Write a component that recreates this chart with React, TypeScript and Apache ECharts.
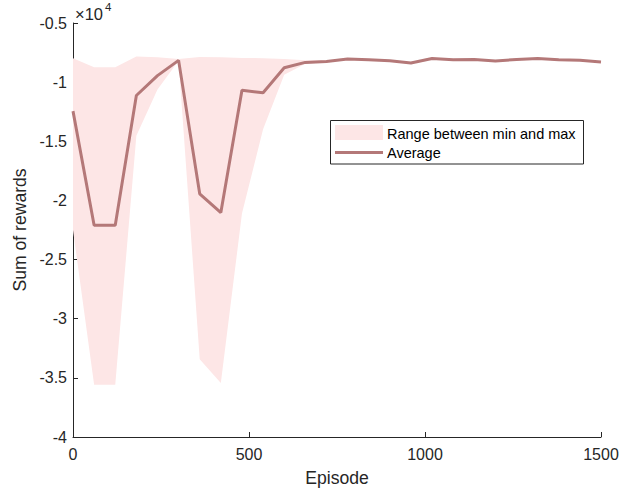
import React, { useEffect, useRef } from "react";
import * as echarts from "echarts";

const episodes = [0, 60, 120, 180, 240, 300, 360, 420, 480, 540, 600, 660, 720, 780, 840, 900, 960, 1020, 1080, 1140, 1200, 1260, 1320, 1380, 1440, 1500];
const averageRewards = [-12450, -22100, -22100, -11130, -9450, -8160, -19440, -21030, -10680, -10900, -8780, -8330, -8250, -8050, -8100, -8200, -8380, -8000, -8100, -8080, -8220, -8080, -8000, -8100, -8150, -8300];
const maxRewards = [-7970, -8750, -8750, -7830, -7900, -8050, -7880, -7900, -7950, -7970, -8050, -8150, -8150, -7980, -8030, -8120, -8300, -7930, -8030, -8010, -8150, -8010, -7930, -8030, -8080, -8230];
const minRewards = [-22500, -35580, -35580, -14540, -10620, -8200, -33430, -35440, -21100, -13980, -9370, -8450, -8320, -8130, -8170, -8270, -8450, -8070, -8170, -8150, -8290, -8150, -8070, -8170, -8220, -8370];
const yTickValues = [-40000, -35000, -30000, -25000, -20000, -15000, -10000, -5000];
const xTickValues = [0, 500, 1000, 1500];

const LINE_COLOR = "#B47878";
const BAND_COLOR = "#FDE6E6";
const AXIS_COLOR = "#262626";
const FONT = "'Liberation Sans', Arial, Helvetica, sans-serif";

export default function App() {
  const ref = useRef<HTMLDivElement>(null);
  useEffect(() => {
    document.body.style.margin = "0";
    if (!ref.current) return;
    const chart = echarts.init(ref.current, null, { renderer: "svg" });
    const avg = episodes.map((x, i) => [x, averageRewards[i]]);
    const bandData = episodes.map((x, i) => [x, minRewards[i], maxRewards[i]]);
    chart.setOption({
      animation: false,
      textStyle: { fontFamily: FONT },
      grid: { left: 73, right: 38, top: 23, bottom: 51, containLabel: false },
      xAxis: {
        type: "value",
        min: xTickValues[0],
        max: xTickValues[xTickValues.length - 1],
        interval: 500,
        name: "Episode",
        nameLocation: "middle",
        nameGap: 32,
        nameTextStyle: { fontSize: 17.6, color: AXIS_COLOR, fontFamily: FONT },
        axisLine: { show: true, onZero: false, lineStyle: { color: AXIS_COLOR, width: 1 } },
        axisTick: { show: true, inside: true, length: 5, lineStyle: { color: AXIS_COLOR } },
        axisLabel: { fontSize: 16, color: AXIS_COLOR, margin: 9, fontFamily: FONT, formatter: (v: number) => String(v) },
        splitLine: { show: false },
      },
      yAxis: {
        type: "value",
        min: yTickValues[0],
        max: yTickValues[yTickValues.length - 1],
        interval: 5000,
        name: "Sum of rewards",
        nameLocation: "middle",
        nameGap: 38,
        nameTextStyle: { fontSize: 17.6, color: AXIS_COLOR, fontFamily: FONT },
        axisLine: { show: true, onZero: false, lineStyle: { color: AXIS_COLOR, width: 1 } },
        axisTick: { show: true, inside: true, length: 5, lineStyle: { color: AXIS_COLOR } },
        axisLabel: {
          fontSize: 16,
          color: AXIS_COLOR,
          margin: 6,
          fontFamily: FONT,
          formatter: (v: number) => String(v / 10000),
        },
        splitLine: { show: false },
      },
      series: [
        {
          name: "Range between min and max",
          type: "custom",
          data: bandData,
          encode: { x: 0, y: [1, 2] },
          silent: true,
          clip: true,
          z: 1,
          renderItem: (params: any, api: any) => {
            if (params.dataIndex !== 0) return null;
            const upper = bandData.map((d) => api.coord([d[0], d[2]]));
            const lowerPts = bandData.map((d) => api.coord([d[0], d[1]])).reverse();
            return {
              type: "polygon",
              shape: { points: upper.concat(lowerPts) },
              style: { fill: BAND_COLOR, stroke: "none" },
            };
          },
        },
        {
          name: "Average",
          type: "line",
          data: avg,
          symbol: "none",
          z: 3,
          lineStyle: { color: LINE_COLOR, width: 3 },
          itemStyle: { color: LINE_COLOR },
        },
      ],
      graphic: [
        {
          type: "text",
          left: 75,
          top: 5,
          style: { text: "×10", fontSize: 16.5, fill: AXIS_COLOR, fontFamily: FONT },
        },
        {
          type: "text",
          left: 105,
          top: 1,
          style: { text: "4", fontSize: 11.5, fill: AXIS_COLOR, fontFamily: FONT },
        },
        {
          type: "rect",
          shape: { x: 330.5, y: 120.5, width: 253, height: 43.5 },
          style: { fill: "#ffffff", stroke: AXIS_COLOR, lineWidth: 1 },
          z: 10,
        },
        {
          type: "rect",
          shape: { x: 335, y: 125, width: 48, height: 15 },
          style: { fill: BAND_COLOR },
          z: 11,
        },
        {
          type: "line",
          shape: { x1: 335, y1: 152.5, x2: 383, y2: 152.5 },
          style: { stroke: LINE_COLOR, lineWidth: 3 },
          z: 11,
        },
        {
          type: "text",
          x: 387,
          y: 134.3,
          style: {
            text: "Range between min and max",
            fontSize: 14.5,
            fill: "#000000",
            fontFamily: FONT,
            verticalAlign: "middle",
            align: "left",
          },
          z: 11,
        },
        {
          type: "text",
          x: 387,
          y: 153.3,
          style: {
            text: "Average",
            fontSize: 14.5,
            fill: "#000000",
            fontFamily: FONT,
            verticalAlign: "middle",
            align: "left",
          },
          z: 11,
        },
      ],
    });
    return () => chart.dispose();
  }, []);
  return <div ref={ref} style={{ position: "absolute", left: 0, top: 0, width: 639, height: 492 }} />;
}
